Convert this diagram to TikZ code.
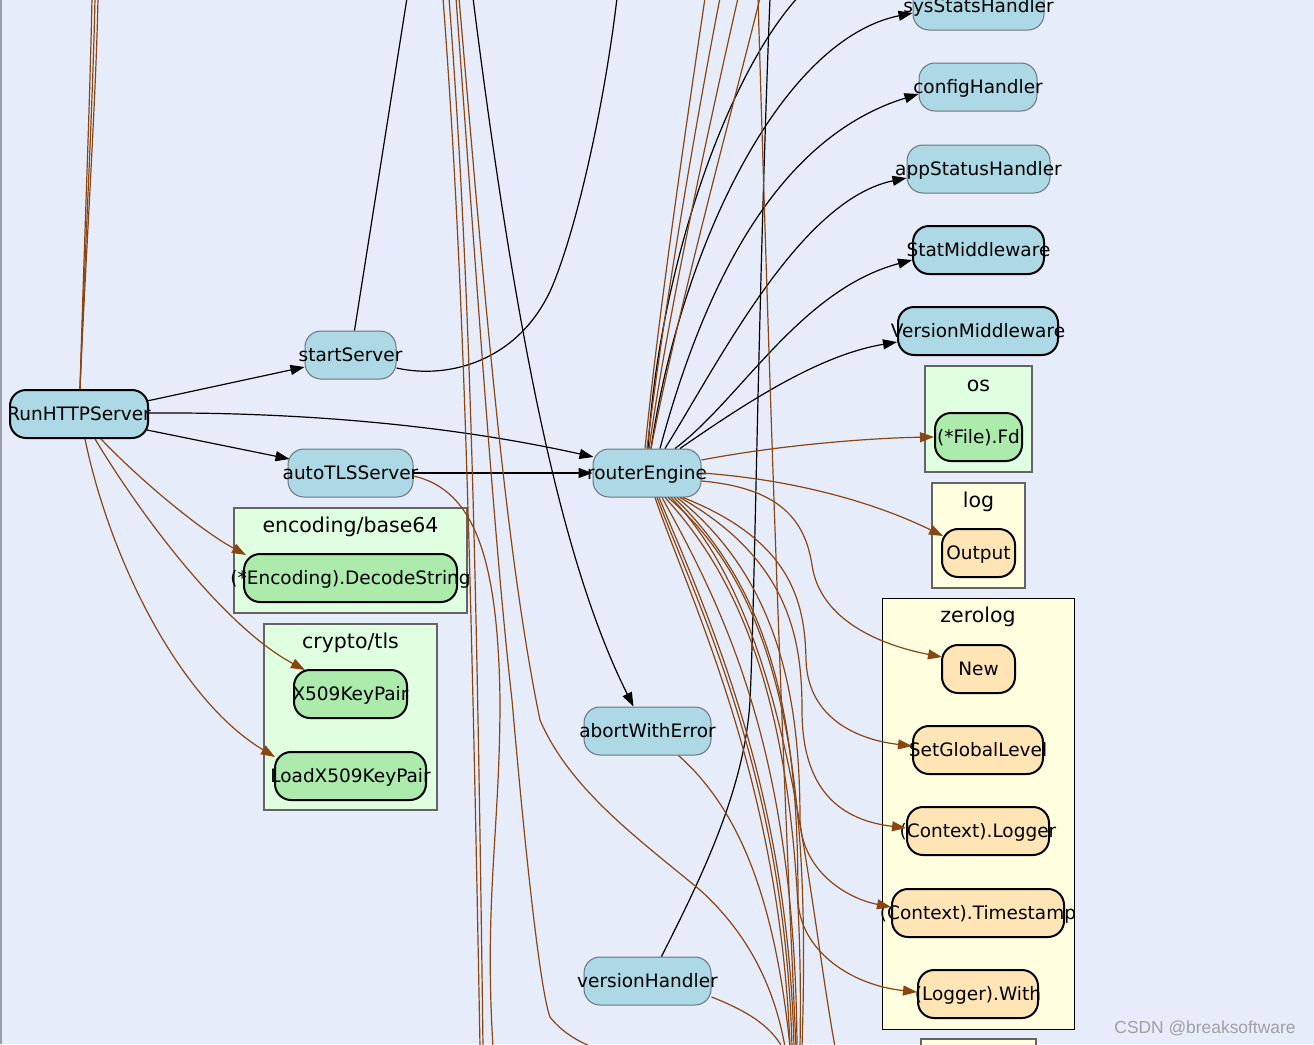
\documentclass[tikz,border=0pt]{standalone}
\usepackage{fontspec}
\setmainfont{DejaVu Sans}
\newfontfamily\markfont{Liberation Sans}
\usetikzlibrary{arrows.meta,calc}
\definecolor{canvas}{RGB}{230,236,250}
\definecolor{fnblue}{RGB}{173,216,230}
\definecolor{pkggreen}{RGB}{224,255,224}
\definecolor{fngreen}{RGB}{173,235,173}
\definecolor{pkgyellow}{RGB}{255,255,224}
\definecolor{fnorange}{RGB}{255,228,181}
\definecolor{calledge}{RGB}{139,69,19}
\definecolor{thinrim}{RGB}{105,115,125}
\definecolor{pkgrim}{RGB}{100,100,100}
\newcommand{\lbl}[1]{\makebox[0pt][c]{#1}}
\tikzset{
  fn/.style={rectangle, rounded corners=16pt, minimum height=48pt, inner sep=0pt,
    text height=12.5pt, text depth=0pt, font=\fontsize{18.5}{20}\selectfont,
    line width=1pt, draw=thinrim, fill=fnblue},
  strong/.style={draw=black, line width=2pt},
  gfn/.style={fill=fngreen},
  ofn/.style={fill=fnorange},
  pkg/.style={line width=1.4pt, draw=pkgrim},
  pkglabel/.style={anchor=base, inner sep=0pt, font=\fontsize{20.5}{22}\selectfont},
  dep/.style={line width=1.2pt, draw=black},
  ext/.style={line width=1.2pt, draw=calledge},
  tip/.style={-{Triangle[length=14pt,width=10pt]}},
}
\begin{document}
\begin{tikzpicture}[x=1pt,y=-1pt]
\useasboundingbox (0,0) rectangle (1314,1044);
\clip (0,0) rectangle (1314,1044);
\fill[canvas] (0,0) rectangle (1314,1044);
\draw[line width=1.5pt, draw={rgb,255:red,150;green,156;blue,168}] (0.75,0) -- (0.75,1044);

% package clusters
\draw[pkg, fill=pkggreen] (234,508) rectangle (467,613);
\node[pkglabel] (encl) at (350.5,532.5) {encoding/base64};
\draw[pkg, fill=pkggreen] (264,624) rectangle (437,810);
\node[pkglabel] (tlsl) at (350.5,648.5) {crypto/tls};
\draw[pkg, fill=pkggreen] (925,366) rectangle (1032,472);
\node[pkglabel] (osl) at (978.5,391) {os};
\draw[pkg, fill=pkgyellow] (932,483) rectangle (1025,588);
\node[pkglabel] (logl) at (978.5,507.5) {log};
\draw[line width=1pt, draw=black, fill=pkgyellow] (882,598) rectangle (1074,1029);
\node[pkglabel] (zerol) at (978,622.5) {zerolog};
\draw[pkg, fill=pkgyellow] (921,1039) rectangle (1036,1100);

% functions
\node[fn, strong, minimum width=138pt] (run) at (79,414) {\lbl{RunHTTPServer}};
\node[fn, minimum width=91pt] (ss) at (350.5,355) {\lbl{startServer}};
\node[fn, minimum width=125pt] (atls) at (350.5,473) {\lbl{autoTLSServer}};
\node[fn, minimum width=108pt] (rtr) at (647,473) {\lbl{routerEngine}};
\node[fn, minimum width=127pt] (abort) at (647.5,731) {\lbl{abortWithError}};
\node[fn, minimum width=127pt] (vh) at (647.5,981) {\lbl{versionHandler}};
\node[fn, minimum width=131pt] (sys) at (978.5,6) {\lbl{sysStatsHandler}};
\node[fn, minimum width=118pt] (cfg) at (978,87) {\lbl{configHandler}};
\node[fn, minimum width=143pt] (app) at (978.5,169) {\lbl{appStatusHandler}};
\node[fn, strong, minimum width=131pt] (stat) at (978.5,250) {\lbl{StatMiddleware}};
\node[fn, strong, minimum width=160pt] (vm) at (978,331) {\lbl{VersionMiddleware}};
\node[fn, strong, gfn, minimum width=87pt] (fd) at (978.5,437) {};
\begin{scope}
  \clip (fd.south west) rectangle (fd.north east);
  \node[fn, draw=none, fill=none, minimum width=87pt] (fdtext) at (fd.center) {\lbl{(*File).Fd}};
\end{scope}
\node[fn, strong, ofn, minimum width=73pt] (out) at (978.5,553) {\lbl{Output}};
\node[fn, strong, ofn, minimum width=73pt] (new) at (978.5,669) {\lbl{New}};
\node[fn, strong, ofn, minimum width=130pt] (sgl) at (978,750) {\lbl{SetGlobalLevel}};
\node[fn, strong, ofn, minimum width=142pt] (lg) at (978,831) {\lbl{(Context).Logger}};
\node[fn, strong, ofn, minimum width=172pt] (ts) at (978,913) {\lbl{(Context).Timestamp}};
\node[fn, strong, ofn, minimum width=120pt] (lw) at (978,994) {\lbl{(Logger).With}};
\node[fn, strong, gfn, minimum width=213pt] (dec) at (350.5,578) {\lbl{(*Encoding).DecodeString}};
\node[fn, strong, gfn, minimum width=113pt] (x509) at (350.5,694) {\lbl{X509KeyPair}};
\node[fn, strong, gfn, minimum width=151pt] (load) at (350.5,776) {\lbl{LoadX509KeyPair}};

% loose ends of calls leaving the visible area
\coordinate (topA) at (407,-2);
\coordinate (topB) at (617,-2);
\coordinate (topC) at (473,-2);
\coordinate (topD) at (770,-2);
\coordinate (topE) at (800,-5);
\coordinate (topF1) at (92,-2);
\coordinate (topF2) at (95,-2);
\coordinate (topF3) at (98,-2);
\coordinate (topG1) at (443,-2);
\coordinate (topG2) at (449,-2);
\coordinate (topG3) at (456,-2);
\coordinate (topG4) at (459,-2);
\coordinate (topH) at (758,-2);
\coordinate (topI1) at (705,-2);
\coordinate (topI2) at (720,-2);
\coordinate (topI3) at (738,-2);
\coordinate (topI4) at (760,-2);
\coordinate (botA) at (493,1047);
\coordinate (botB1) at (480,1047);
\coordinate (botB2) at (483,1047);
\coordinate (botC) at (592,1047);
\coordinate (botD) at (785,1047);
\coordinate (botE) at (796,1047);
\coordinate (botF) at (835,1047);
\coordinate (botG1) at (790,1047);
\coordinate (botG2) at (792,1047);
\coordinate (botG3) at (794,1047);
\coordinate (botG4) at (797,1047);
\coordinate (botG5) at (800,1047);
\coordinate (botG6) at (802,1047);
\coordinate (botH) at (790,1047);
\coordinate (botI) at (782,1047);

% calls inside the package
\draw[dep, tip] ($(run.east)+(-2,-13)$) -- ($(ss.west)+(0,12)$);
\draw[dep, tip] ($(run.east)+(0,-1)$) .. controls (300,412) and (450,425) .. ($(rtr.west)+(1,-16)$);
\draw[dep, tip] ($(run.east)+(-2,16)$) -- ($(atls.west)+(2,-14)$);
\draw[dep, tip] (atls.east) -- (rtr.west);
\draw[dep] ($(ss.north)+(4,0)$) -- (topA);
\draw[dep] ($(ss.east)+(0,13)$) .. controls (450,380) and (520,360) .. (552,287)
  .. controls (578,225) and (605,100) .. (topB);
\draw[dep, tip] (topC) .. controls (515,330) and (560,560) .. ($(abort.north)+(-14,0)$);
\draw[dep] ($(vh.north)+(14,0)$) .. controls (700,880) and (745,790) .. (750,700)
  .. controls (755,600) and (758,300) .. (topD);
\draw[dep] ($(rtr.north)+(1,0)$) .. controls (660,260) and (730,70) .. (topE);
\draw[dep, tip] ($(rtr.north)+(4,0)$) .. controls (680,250) and (780,40) .. ($(sys.west)+(0,7)$);
\draw[dep, tip] ($(rtr.north)+(13,0)$) .. controls (700,300) and (770,140) .. ($(cfg.west)+(0,7)$);
\draw[dep, tip] ($(rtr.north)+(18,0)$) .. controls (720,360) and (800,200) .. ($(app.west)+(0,9)$);
\draw[dep, tip] ($(rtr.north)+(28,0)$) .. controls (740,400) and (800,290) .. ($(stat.west)+(0,10)$);
\draw[dep, tip] ($(rtr.north)+(33,0)$) .. controls (750,400) and (820,355) .. ($(vm.west)+(0,11)$);

% calls into other packages
\draw[ext] ($(run.north)+(1,0)$) .. controls (84,250) and (90,100) .. (topF1);
\draw[ext] ($(run.north)+(1,0)$) .. controls (85,250) and (93,100) .. (topF2);
\draw[ext] ($(run.north)+(1,0)$) .. controls (86,250) and (96,100) .. (topF3);
\draw[ext, tip] ($(run.south)+(22,0)$) .. controls (140,480) and (200,530) .. ($(dec.north west)+(3,2)$);
\draw[ext, tip] ($(run.south)+(16,0)$) .. controls (150,530) and (230,630) .. ($(x509.north west)+(12,1)$);
\draw[ext, tip] ($(run.south)+(6,0)$) .. controls (110,560) and (180,700) .. ($(load.west)+(1,-19)$);
\draw[ext] ($(atls.east)+(0,3)$) .. controls (475,490) and (498,560) .. (500,700)
  .. controls (500,830) and (484,900) .. (botA);
\draw[ext] (topG1) .. controls (462,250) and (470,500) .. (botB1);
\draw[ext] (topG2) .. controls (468,250) and (476,500) .. (botB2);
\draw[ext] (topG3) .. controls (478,300) and (495,550) .. (512,700)
  .. controls (525,850) and (540,990) .. (550,1017)
  .. controls (560,1030) and (575,1040) .. (botC);
\draw[ext] (topG4) .. controls (485,300) and (505,550) .. (540,720)
  .. controls (570,790) and (640,840) .. (700,890)
  .. controls (750,935) and (775,990) .. (botD);
\draw[ext] (topH) .. controls (770,400) and (780,700) .. (botE);
\draw[ext] ($(rtr.north)+(-2,0)$) .. controls (660,300) and (690,100) .. (topI1);
\draw[ext] (rtr.north) .. controls (665,300) and (700,100) .. (topI2);
\draw[ext] ($(rtr.north)+(2,0)$) .. controls (670,300) and (715,100) .. (topI3);
\draw[ext] ($(rtr.north)+(4,0)$) .. controls (680,300) and (735,100) .. (topI4);
\draw[ext, tip] ($(rtr.east)+(0,-13)$) .. controls (780,445) and (870,438) .. (fd.west);
\draw[ext, tip] (rtr.east) .. controls (800,480) and (880,505) .. ($(out.west)+(2,-17)$);
\draw[ext, tip] ($(rtr.east)+(0,8)$) .. controls (780,488) and (805,520) .. (812,565)
  .. controls (820,620) and (880,645) .. ($(new.west)+(1,-12)$);
\draw[ext, tip] ($(rtr.south)+(36,0)$) .. controls (790,540) and (805,600) .. (806,660)
  .. controls (808,720) and (860,740) .. ($(sgl.west)+(0,-4)$);
\draw[ext, tip] ($(rtr.south)+(33,0)$) .. controls (790,560) and (802,640) .. (802,710)
  .. controls (802,790) and (840,820) .. ($(lg.west)+(0,-3)$);
\draw[ext, tip] ($(rtr.south)+(30,0)$) .. controls (780,580) and (800,700) .. (800,820)
  .. controls (802,870) and (845,898) .. ($(ts.west)+(0,-6)$);
\draw[ext, tip] ($(rtr.south)+(27,0)$) .. controls (780,600) and (798,740) .. (798,900)
  .. controls (800,950) and (850,985) .. ($(lw.west)+(0,-2)$);
\draw[ext] ($(rtr.south)+(24,0)$) .. controls (790,620) and (805,880) .. (botF);
\draw[ext] ($(rtr.south)+(8,0)$) .. controls (690,600) and (780,780) .. (botG1);
\draw[ext] ($(rtr.south)+(10,0)$) .. controls (700,610) and (785,780) .. (botG2);
\draw[ext] ($(rtr.south)+(12,0)$) .. controls (710,620) and (788,790) .. (botG3);
\draw[ext] ($(rtr.south)+(15,0)$) .. controls (730,620) and (795,760) .. (botG4);
\draw[ext] ($(rtr.south)+(18,0)$) .. controls (760,600) and (805,760) .. (botG5);
\draw[ext] ($(rtr.south)+(21,0)$) .. controls (790,600) and (810,800) .. (botG6);
\draw[ext] ($(abort.south)+(31,0)$) .. controls (740,810) and (775,900) .. (botH);
\draw[ext] ($(vh.east)+(0,16)$) .. controls (745,1010) and (770,1025) .. (botI);

% watermark
\node[inner sep=0pt, text={rgb,255:red,160;green,160;blue,160}, font=\markfont\fontsize{17.4}{19}\selectfont] (mark) at (1205,1028) {CSDN @breaksoftware};
\end{tikzpicture}
\end{document}
